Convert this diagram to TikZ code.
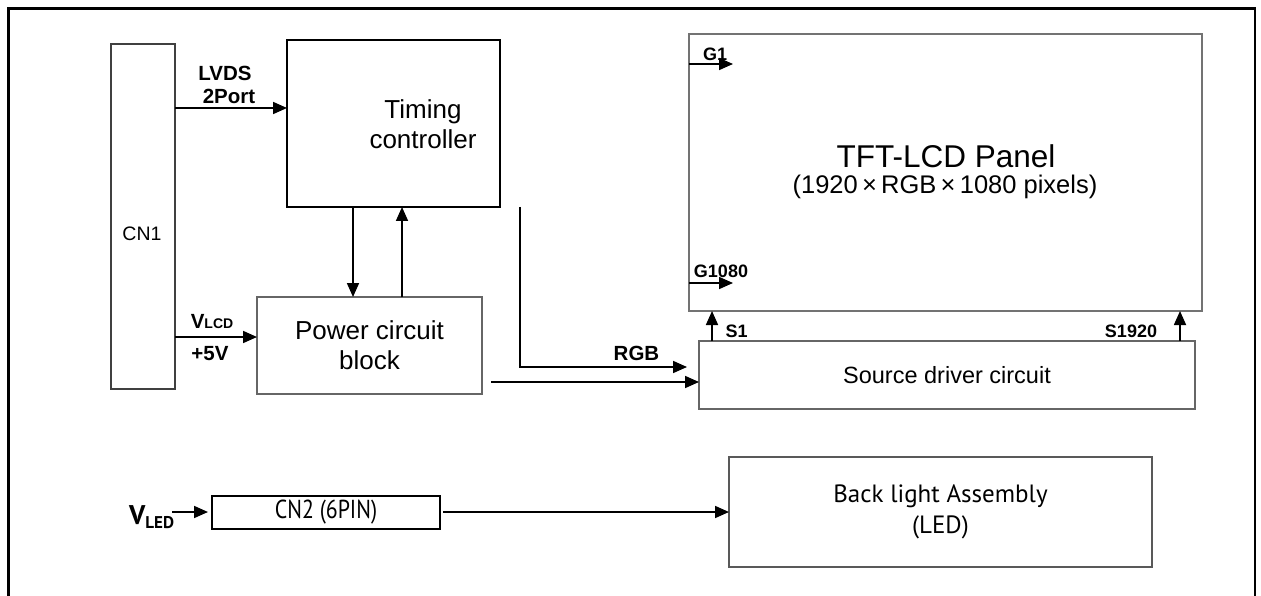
\documentclass[tikz,border=0pt]{standalone}
\usepackage{fontspec}
\setmainfont{Liberation Sans}
\newfontfamily\condfont{PT Sans}
\usetikzlibrary{arrows.meta,calc}
\begin{document}
\begin{tikzpicture}[x=1pt,y=-1pt,
  box/.style={draw=#1, rectangle, inner sep=0pt, outer sep=0pt, line width=1.2pt},
  box/.default={black!60},
  arr/.style={-{Triangle[length=14pt,width=12pt]}, line width=1.7pt},
  lbl/.style={inner sep=0pt, font=\bfseries\fontsize{20.5pt}{24pt}\selectfont},
  slbl/.style={inner sep=0pt, font=\bfseries\fontsize{18pt}{21pt}\selectfont},
  txt/.style={inner sep=0pt, align=center},
]
\useasboundingbox (0,0) rectangle (1261,596);
% outer frame (open at the bottom)
\draw[line width=2.4pt] (8.5,600) -- (8.5,8.5) -- (1255,8.5) -- (1255,600);

% boxes
\node[box=black!75, minimum width=64pt, minimum height=345pt] (cn1) at (143,216.5) {};
\node[txt, font=\fontsize{19.5pt}{23pt}\selectfont] (cn1t) at (142,233.5) {CN1};

\node[box=black, line width=1.6pt, minimum width=213pt, minimum height=167pt] (tc) at (393.5,123.5) {};
\node[txt, font=\fontsize{26pt}{30pt}\selectfont] (tct) at (423,124) {Timing\\controller};

\node[box, minimum width=225pt, minimum height=97pt, txt, font=\fontsize{26pt}{30pt}\selectfont] (pw) at (369.5,345.5) {Power circuit\\block};

\node[box=black!55, line width=1.6pt, minimum width=513pt, minimum height=277pt] (tft) at (945.5,172.5) {};
\node[txt, font=\fontsize{31.5pt}{36pt}\selectfont] (tftt) at (946,156) {TFT-LCD Panel};
\node[txt, font=\fontsize{25.5pt}{30pt}\selectfont] (tfts) at (945,187) {(1920\,×\,RGB\,×\,1080 pixels)};

\node[box, minimum width=496pt, minimum height=68pt, txt, font=\fontsize{23.5pt}{28pt}\selectfont] (sd) at (947,375) {Source driver circuit};

\node[box=black, line width=2.2pt, minimum width=228pt, minimum height=33pt, txt, font=\condfont\fontsize{26pt}{30pt}\selectfont] (cn2) at (326,512.5) {\scalebox{0.84}[1]{CN2 (6PIN)}};

\node[box=black!65, minimum width=423pt, minimum height=110pt, txt, font=\condfont\fontsize{25pt}{31pt}\selectfont] (bl) at (940.5,512) {Back light Assembly\\(LED)};

% helper coordinates
\coordinate (ylv) at (0,108);
\coordinate (ylcd) at (0,337);
\coordinate (xdn) at (353,0);
\coordinate (xup) at (402,0);
\coordinate (xrgb) at (520,0);
\coordinate (rgbend) at (687,367);
\coordinate (pwout) at (491,382);
\coordinate (yg1) at (0,64);
\coordinate (yg2) at (0,283);
\coordinate (g1end) at (733,64);
\coordinate (g2end) at (733,283);
\coordinate (xs1) at (712,0);
\coordinate (xs2) at (1180,0);
\coordinate (vledend) at (208,512);
\coordinate (vledstart) at (172,512);
\coordinate (cn2out) at (443,512);

% connectors
\draw[arr] (cn1.east |- ylv) -- (tc.west |- ylv);
\draw[arr] (tc.south -| xdn) -- (pw.north -| xdn);
\draw[arr] (pw.north -| xup) -- (tc.south -| xup);
\draw[arr] (cn1.east |- ylcd) -- (pw.west |- ylcd);
\draw[arr] (tc.south -| xrgb) -- (xrgb |- rgbend) -- (rgbend);
\draw[arr] (pwout) -- (sd.west |- pwout);
\draw[arr] (tft.west |- yg1) -- (g1end);
\draw[arr] (tft.west |- yg2) -- (g2end);
\draw[arr] (sd.north -| xs1) -- (tft.south -| xs1);
\draw[arr] (sd.north -| xs2) -- (tft.south -| xs2);
\draw[arr] (vledstart) -- (vledend);
\draw[arr] (cn2out) -- (bl.west |- cn2out);

% labels
\node[lbl] (lvds) at (225,73) {LVDS};
\node[lbl] (port) at (229,96) {2Port};
\node[lbl, anchor=base] (vlcd) at (212,328.5) {V{\fontsize{14pt}{16pt}\selectfont LCD}};
\node[lbl] (p5v) at (210,354) {+5V};
\node[lbl] (rgb) at (636.5,353.5) {RGB};
\node[slbl] (s1) at (736.5,331) {S1};
\node[slbl] (s1920) at (1131,331) {S1920};
\node[slbl] (g1) at (715,54) {G1};
\node[slbl] (g1080) at (721,271) {G1080};
\node[inner sep=0pt, anchor=base west, font=\condfont\bfseries\fontsize{27pt}{30pt}\selectfont] (vled) at (129,524) {V\raisebox{-4pt}{\fontsize{17pt}{20pt}\selectfont LED}};
\end{tikzpicture}
\end{document}
